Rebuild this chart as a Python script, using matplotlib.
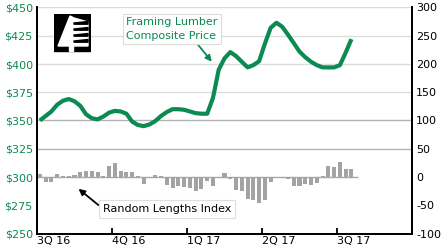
import matplotlib
matplotlib.use("Agg")
import matplotlib.pyplot as plt
from matplotlib.patches import Rectangle, Polygon

# weekly framing lumber composite price ($/mbf)
price = [350, 354, 358, 364, 367.5, 369, 367, 363, 355.5, 352,
         351, 353.5, 357, 358.5, 358, 356, 349, 346, 345, 346.5,
         349.5, 354, 357.5, 360, 360, 359.5, 358, 356.5, 356, 356,
         370, 395, 405, 410.5, 407, 402, 397, 399, 402.5, 418,
         432, 436.5, 433, 426, 418.5, 411, 406, 402, 399, 397,
         397, 397, 399, 410, 422]

# weekly Random Lengths index change (right axis)
index_chg = [5, -8, -8, 6, 2, 2, 3, 8, 11, 10,
             8, 1, 19, 24, 11, 9, 8, 1, -13, -2,
             4, 1, -14, -19, -16, -18, -19, -25, -21, -7,
             -16, 0.5, 7, -3, -23, -25, -39, -40, -46, -40,
             -9, 0.5, -1, -4, -16, -16, -13, -14, -10, 1,
             20, 18, 26, 14, 14]

quarter_labels = ["3Q 16", "4Q 16", "1Q 17", "2Q 17", "3Q 17"]
left_ticks = [250, 275, 300, 325, 350, 375, 400, 425, 450]
right_ticks = [-100, -50, 0, 50, 100, 150, 200, 250, 300]

green = "#0b8a52"
weeks = [i + 0.5 for i in range(len(price))]

fig = plt.figure(figsize=(4.46, 2.47), dpi=100)
ax = fig.add_axes([37 / 446, 1 - 233.5 / 247, 375 / 446, 226 / 247])
ax2 = ax.twinx()

# gridlines
for lvl in [375, 400, 425, 450]:
    ax.axhline(lvl, color="#dcdcdc", lw=1.0, zorder=0)
for lvl in [325, 350]:
    ax.axhline(lvl, color="#b4b4b4", lw=1.0, zorder=0)
ax.hlines(300, 0, 55.6, color="#a8a8a8", lw=1.0, zorder=0)

ax.plot(weeks, price, color=green, lw=3.0, solid_capstyle="butt",
        solid_joinstyle="round", zorder=3)
ax2.bar(weeks, index_chg, width=0.7, color="#a3a3a3", zorder=2)

ax.set_xlim(0, 65)
ax.set_ylim(250, 450)
ax2.set_ylim(-100, 300)
ax.set_yticks(left_ticks)
ax.set_yticklabels(["$%d" % v for v in left_ticks], color=green, fontsize=8)
ax2.set_yticks(right_ticks)
ax2.set_yticklabels([str(v) for v in right_ticks], fontsize=8)
ax.set_xticks([0, 13, 26, 39, 52])
ax.set_xticklabels(quarter_labels, fontsize=8, ha="left")

ax.tick_params(axis="y", length=0, pad=3)
ax2.tick_params(axis="y", length=0, pad=3)
ax.tick_params(axis="x", direction="in", length=4, width=1.3, pad=2)

for a in (ax, ax2):
    a.spines["top"].set_visible(False)
    for s in ("left", "right", "bottom"):
        a.spines[s].set_linewidth(1.3)
        a.spines[s].set_color("black")

# callouts
ax.annotate("Framing Lumber\nComposite Price", xy=(30.3, 402), xytext=(15.5, 431),
            fontsize=8, color=green, va="center", ha="left", linespacing=1.5,
            bbox=dict(boxstyle="square,pad=0.3", fc="white", ec="#dddddd", lw=0.8),
            arrowprops=dict(arrowstyle="-|>", color=green, lw=1.3,
                            shrinkA=0, shrinkB=0, mutation_scale=9,
                            relpos=(0.75, 0.0)), zorder=5)
ax.annotate("Random Lengths Index", xy=(7.2, 289.5), xytext=(11.4, 272),
            fontsize=8, color="black", va="center", ha="left",
            bbox=dict(boxstyle="square,pad=0.35", fc="white", ec="#dddddd", lw=0.8),
            arrowprops=dict(arrowstyle="-|>", color="black", lw=1.3,
                            shrinkA=0, shrinkB=0, mutation_scale=9,
                            relpos=(0.0, 0.5)), zorder=5)

# logo
lg = fig.add_axes([54 / 446, 1 - 55 / 247, 37 / 446, 41 / 247])
lg.set_xlim(0, 37)
lg.set_ylim(41, 0)
lg.axis("off")
lg.add_patch(Rectangle((0, 0), 37, 37, color="black"))
lg.add_patch(Polygon([(16, 2), (4, 32), (34, 32), (34, 8), (20, 4)], color="white"))
for y0 in [9, 15, 21, 27]:
    lg.add_patch(Polygon([(20, y0), (34, y0 - 1.5), (34, y0 + 1.2), (20, y0 + 1.2)],
                         color="black"))
lg.add_patch(Rectangle((15, 32), 3.5, 5, color="white"))

fig.savefig("out.png", dpi=100)
